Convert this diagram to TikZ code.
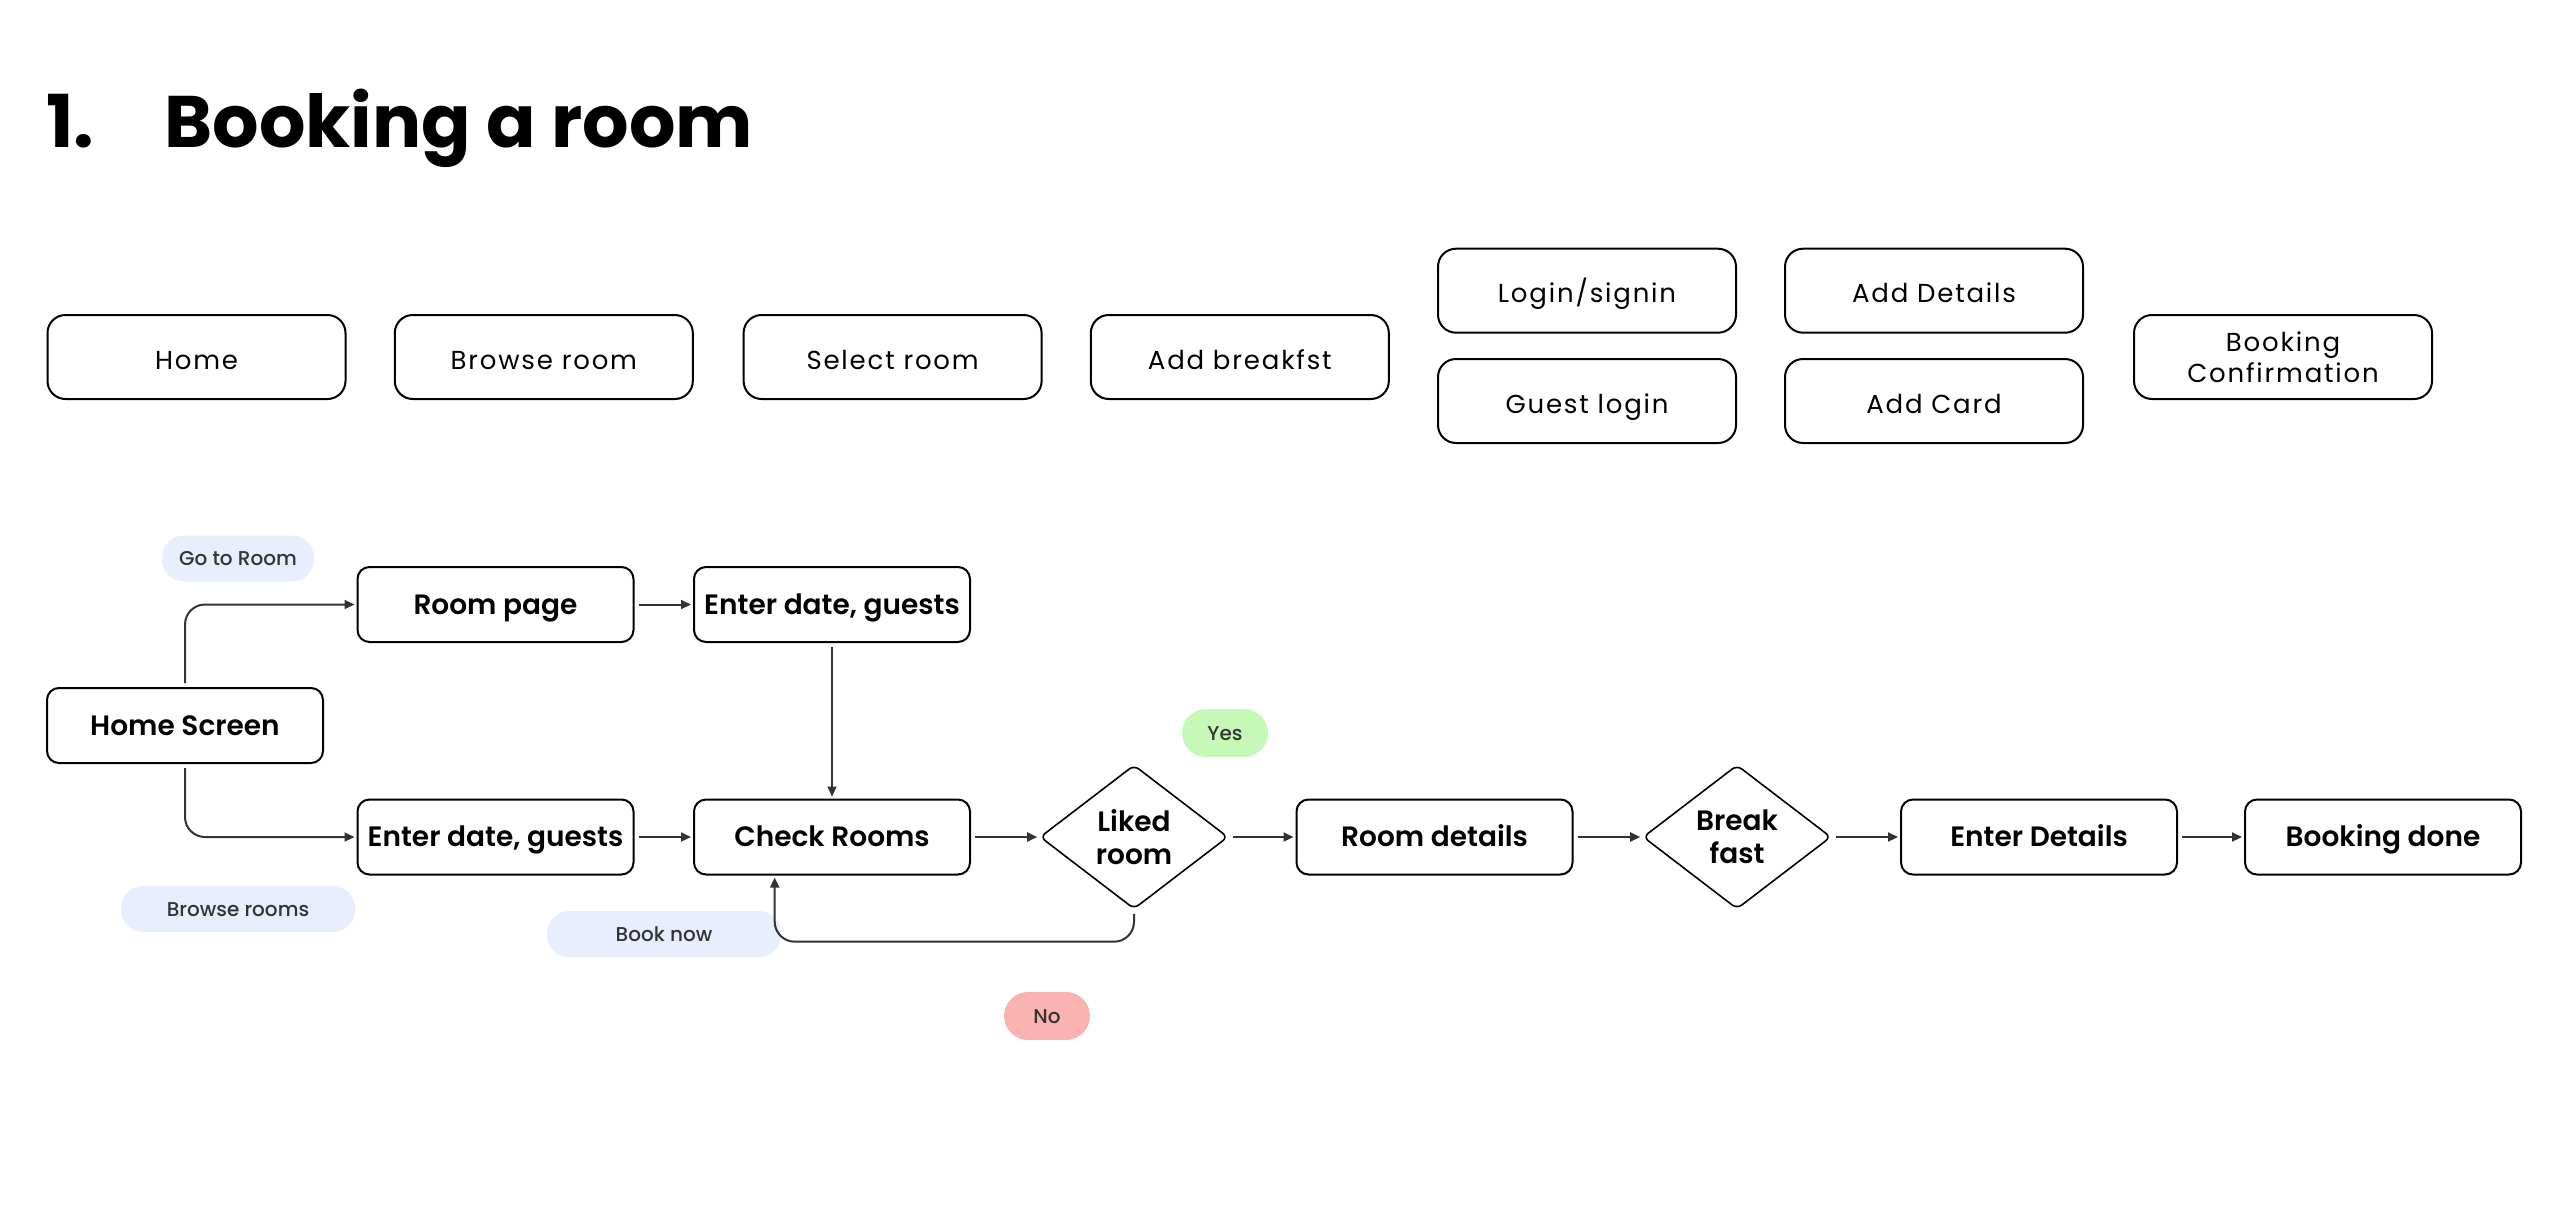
\documentclass[tikz,border=0pt]{standalone}
\usepackage{fontspec}
\setmainfont{Poppins}
\newfontfamily\semib{Poppins SemiBold}
\newfontfamily\topf{Poppins}[LetterSpace=7]
\newfontfamily\medf{Poppins Medium}
\usetikzlibrary{shapes.geometric,arrows.meta}
\definecolor{pillblue}{HTML}{E8EEFD}
\definecolor{pillgreen}{HTML}{C6F9B8}
\definecolor{pillred}{HTML}{F9B4B1}
\definecolor{linegray}{HTML}{333333}
\begin{document}
\begin{tikzpicture}[x=0.5pt,y=-0.5pt,
  topbox/.style={draw=black, line width=1pt, rounded corners=9pt, minimum width=149pt, minimum height=42pt, inner sep=0pt, align=center, font=\topf\fontsize{13}{15.5}\selectfont},
  toptext/.style={text height=12.5pt, text depth=0.4pt},
  flowbox/.style={draw=black, line width=1pt, rounded corners=6pt, minimum width=138pt, minimum height=37.5pt, inner sep=0pt, text height=12pt, text depth=2.2pt, font=\semib\fontsize{14}{16}\selectfont},
  decision/.style={diamond, draw=black, line width=0.8pt, rounded corners=3pt, minimum width=94pt, minimum height=72pt, inner sep=0pt, align=center, font=\semib\fontsize{14}{16.5}\selectfont},
  pill/.style={rounded corners=11pt, minimum height=23pt, inner sep=0pt, text height=8.5pt, text depth=1.5pt, text=linegray, font=\medf\fontsize{10}{11}\selectfont},
  conn/.style={draw=linegray, line width=1pt, -{Triangle[length=5pt,width=4.5pt]}}
]
\useasboundingbox (0,0) rectangle (2568,1216);

% title
\node[anchor=base west, inner sep=0pt, font=\bfseries\fontsize{36.5}{40}\selectfont] (num) at (46,147) {1.};
\node[anchor=base west, inner sep=0pt, font=\bfseries\fontsize{36.5}{40}\selectfont] (title) at (164,147) {Booking a room};

% top row of screens
\node[topbox, toptext] (t1) at (196.5,357) {Home};
\node[topbox, toptext] (t2) at (543.8,357) {Browse room};
\node[topbox, toptext] (t3) at (892.6,357) {Select room};
\node[topbox, toptext] (t4) at (1239.8,357) {Add breakfst};
\node[topbox, toptext] (t5) at (1587,290.7) {Login/signin};
\node[topbox, toptext] (t6) at (1587,401) {Guest login};
\node[topbox, toptext] (t7) at (1934,290.7) {Add Details};
\node[topbox, toptext] (t8) at (1934,401) {Add Card};
\node[topbox] (t9) at (2283,357) {Booking\\Confirmation};

% flow nodes
\node[flowbox] (home) at (185,725.5) {Home Screen};
\node[flowbox] (room) at (495.5,604.5) {Room page};
\node[flowbox] (ed1) at (832,604.5) {Enter date, guests};
\node[flowbox] (ed2) at (495.5,837) {Enter date, guests};
\node[flowbox] (check) at (832,837) {Check Rooms};
\node[decision] (liked) at (1134,837) {Liked\\room};
\node[flowbox] (rd) at (1434.5,837) {Room details};
\node[decision] (bf) at (1737,837) {Break\\fast};
\node[flowbox] (edet) at (2039,837) {Enter Details};
\node[flowbox] (done) at (2383,837) {Booking done};

% pills
\node[pill, fill=pillblue, minimum width=76pt] (p1) at (238,558.5) {Go to Room};
\node[pill, fill=pillblue, minimum width=117pt] (p2) at (238,909) {Browse rooms};
\node[pill, fill=pillblue, minimum width=117pt] (p3) at (664,934) {Book now};
\node[pill, fill=pillgreen, minimum width=43pt, minimum height=24pt, rounded corners=12pt] (p4) at (1225,733) {Yes};
\node[pill, fill=pillred, minimum width=43pt, minimum height=24pt, rounded corners=12pt] (p5) at (1047,1016) {No};

% connectors
\draw[conn, rounded corners=10pt] ([yshift=2pt]home.north) -- (home.north |- room.west) -- ([xshift=-1pt]room.west);
\draw[conn, rounded corners=10pt] ([yshift=-2pt]home.south) -- (home.south |- ed2.west) -- ([xshift=-1pt]ed2.west);
\draw[conn] ([xshift=2pt]room.east) -- ([xshift=-1pt]ed1.west);
\draw[conn] ([yshift=-2pt]ed1.south) -- ([yshift=1pt]check.north);
\draw[conn] ([xshift=2pt]ed2.east) -- ([xshift=-1pt]check.west);
\draw[conn] ([xshift=2pt]check.east) -- ([xshift=-1pt]liked.west);
\draw[conn] ([xshift=2pt]liked.east) -- ([xshift=-1pt]rd.west);
\draw[conn] ([xshift=2pt]rd.east) -- ([xshift=-1pt]bf.west);
\draw[conn] ([xshift=2pt]bf.east) -- ([xshift=-1pt]edet.west);
\draw[conn] ([xshift=2pt]edet.east) -- ([xshift=-1pt]done.west);
\coordinate (back) at (774.7,941.7);
\draw[conn, rounded corners=10pt] ([yshift=-2pt]liked.south) |- (back) -- ([yshift=-1pt]back |- check.south);
\end{tikzpicture}
\end{document}
